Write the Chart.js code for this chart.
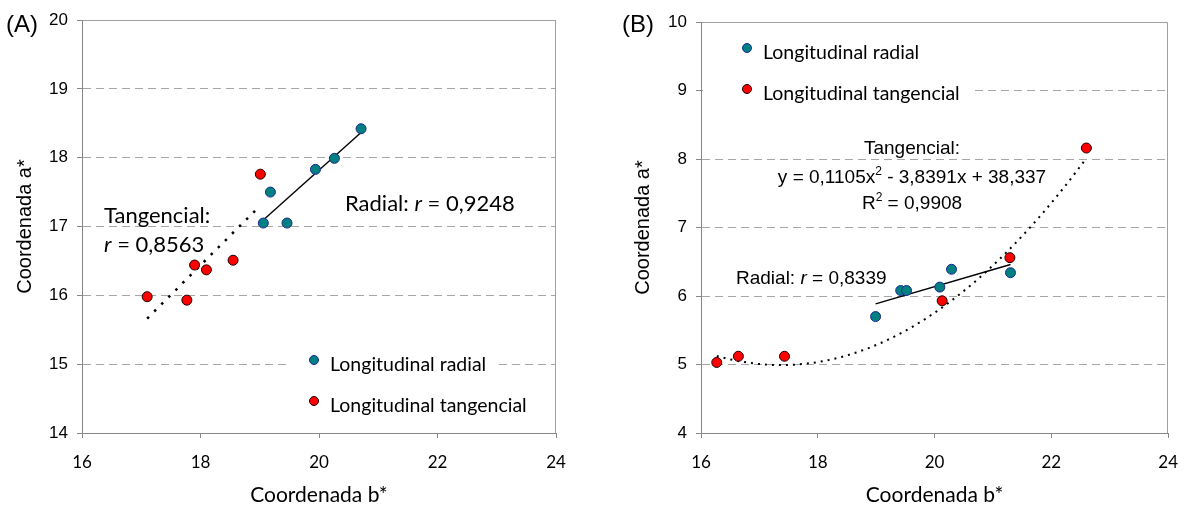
<!DOCTYPE html>
<html>
<head>
<meta charset="utf-8">
<script src="https://cdn.jsdelivr.net/npm/chart.js@4.4.0/dist/chart.umd.min.js"></script>
<style>
  body { margin: 0; background: #fff; }
  .panel { position: absolute; top: 0; width: 596px; height: 507px; }
</style>
</head>
<body>
<div class="panel" style="left:0"><canvas id="chartA" width="596" height="507"></canvas></div>
<div class="panel" style="left:596px"><canvas id="chartB" width="596" height="507"></canvas></div>
<script>
// (A) coordenadas b* / a*
const radialA_b = [19.06, 19.18, 19.46, 19.94, 20.26, 20.71];
const radialA_a = [17.05, 17.50, 17.05, 17.83, 17.99, 18.42];
const tangA_b = [17.10, 17.77, 17.90, 18.10, 18.55, 19.01];
const tangA_a = [15.98, 15.93, 16.44, 16.37, 16.51, 17.76];

// (B)
const radialB_b = [18.99, 19.42, 19.52, 20.09, 20.29, 21.30];
const radialB_a = [5.70, 6.08, 6.08, 6.13, 6.39, 6.34];
const tangB_b = [16.27, 16.64, 17.43, 20.13, 21.29, 22.60];
const tangB_a = [5.03, 5.12, 5.12, 5.93, 6.56, 8.16];
// polinomio de la línea de tendencia tangencial: a, b, c
const tangB_coef = [0.1105, -3.8391, 38.337];

const xRange = [16, 24];
const yRangeA = [14, 20];
const yRangeB = [4, 10];

const ARIAL = '"Liberation Sans", Arial, sans-serif';
const CALIBRI = 'Lato, "Open Sans", sans-serif';

const pts = (xs, ys) => xs.map((x, i) => ({ x: x, y: ys[i] }));

// recta de mínimos cuadrados entre el mínimo y el máximo de x
function linFit(xs, ys) {
    const n = xs.length;
    const mx = xs.reduce((s, v) => s + v, 0) / n;
    const my = ys.reduce((s, v) => s + v, 0) / n;
    let sxy = 0, sxx = 0;
    xs.forEach((x, i) => { sxy += (x - mx) * (ys[i] - my); sxx += (x - mx) * (x - mx); });
    const k = sxy / sxx;
    const x0 = Math.min(...xs), x1 = Math.max(...xs);
    return [{ x: x0, y: my + k * (x0 - mx) }, { x: x1, y: my + k * (x1 - mx) }];
}

function polyCurve(xs, coef, steps) {
    const x0 = Math.min(...xs), x1 = Math.max(...xs);
    const out = [];
    for (let i = 0; i <= steps; i++) {
        const x = x0 + (x1 - x0) * i / steps;
        out.push({ x: x, y: coef[0] * x * x + coef[1] * x + coef[2] });
    }
    return out;
}

// texto en tramos (para la r en cursiva y los superíndices)
function drawRuns(ctx, x, y, parts, align) {
    let w = 0;
    parts.forEach(p => { ctx.font = p[1]; w += ctx.measureText(p[0]).width; });
    let cx = align === 'center' ? x - w / 2 : x;
    parts.forEach(p => {
        ctx.font = p[1];
        ctx.fillText(p[0], cx, y + (p[2] || 0));
        cx += ctx.measureText(p[0]).width;
    });
}

function decor(cfg) {
    return {
        id: 'decor',
        beforeDatasetsDraw(chart) {
            const ctx = chart.ctx, a = chart.chartArea;
            ctx.save();
            // fondo blanco de la leyenda
            ctx.fillStyle = '#fff';
            ctx.fillRect(cfg.legendBox[0], cfg.legendBox[1], cfg.legendBox[2], cfg.legendBox[3]);
            // marco del área de trazado
            ctx.strokeStyle = '#a0a0a0';
            ctx.lineWidth = 1;
            ctx.beginPath();
            ctx.moveTo(Math.round(a.left) + 0.5, Math.round(a.top) + 0.5);
            ctx.lineTo(Math.round(a.right) - 0.5, Math.round(a.top) + 0.5);
            ctx.lineTo(Math.round(a.right) - 0.5, Math.round(a.bottom));
            ctx.stroke();
            ctx.restore();
        },
        afterDraw(chart) {
            const ctx = chart.ctx, a = chart.chartArea;
            ctx.save();
            ctx.fillStyle = '#000';
            ctx.textBaseline = 'alphabetic';
            ctx.textAlign = 'left';

            ctx.font = '24px ' + ARIAL;
            ctx.fillText(cfg.panel, cfg.panelPos[0], cfg.panelPos[1]);

            // títulos de los ejes
            ctx.textAlign = 'center';
            ctx.font = '21px ' + CALIBRI;
            ctx.fillText('Coordenada b*', (a.left + a.right) / 2, 502);
            ctx.save();
            ctx.translate(cfg.yTitleX, (a.top + a.bottom) / 2);
            ctx.rotate(-Math.PI / 2);
            ctx.font = '20px ' + ARIAL;
            ctx.fillText('Coordenada a*', 0, 0);
            ctx.restore();
            ctx.textAlign = 'left';

            cfg.notes.forEach(n => drawRuns(ctx, n.x, n.y, n.parts, n.align));

            // leyenda
            cfg.legend.forEach(l => {
                ctx.beginPath();
                ctx.arc(l.x, l.y, 4.5, 0, Math.PI * 2);
                ctx.fillStyle = l.fill;
                ctx.fill();
                ctx.lineWidth = 1;
                ctx.strokeStyle = l.stroke;
                ctx.stroke();
                ctx.fillStyle = '#000';
                ctx.font = '19.5px ' + CALIBRI;
                ctx.fillText(l.text, l.x + 16, l.y + 10.5);
            });
            ctx.restore();
        }
    };
}

function options(yRange, pad, yWidth) {
    return {
        responsive: false,
        animation: false,
        devicePixelRatio: 1,
        layout: { padding: pad },
        plugins: { legend: { display: false }, tooltip: { enabled: false } },
        scales: {
            x: {
                type: 'linear',
                min: xRange[0], max: xRange[1],
                afterFit: s => { s.height = 74; },
                ticks: { stepSize: 2, color: '#000', padding: 14, font: { family: CALIBRI, size: 17 } },
                grid: { drawOnChartArea: false, drawTicks: true, tickLength: 5, tickColor: '#888' },
                border: { color: '#888' }
            },
            y: {
                min: yRange[0], max: yRange[1],
                afterFit: s => { s.width = yWidth; },
                ticks: { stepSize: 1, color: '#000', padding: 9, font: { family: ARIAL, size: 17 } },
                grid: { color: '#a6a6a6', tickLength: 5, tickColor: '#888', tickBorderDash: [] },
                border: { color: '#888', dash: [8, 5] }
            }
        }
    };
}

const radialStyle = { backgroundColor: '#008080', borderColor: '#1d2a8e', pointRadius: 5, borderWidth: 1, order: 1 };
const tangStyle = { backgroundColor: '#ff0000', borderColor: '#1a0000', pointRadius: 5, borderWidth: 1, order: 1 };
const trendBase = { showLine: true, pointRadius: 0, borderColor: '#000', order: 2 };

new Chart(document.getElementById('chartA'), {
    type: 'scatter',
    data: {
        datasets: [
            Object.assign({ label: 'Radial', data: linFit(radialA_b, radialA_a), borderWidth: 1.4 }, trendBase),
            Object.assign({ label: 'Tangencial', data: linFit(tangA_b, tangA_a), borderWidth: 2.5, borderDash: [2.5, 7.5] }, trendBase),
            Object.assign({ label: 'Longitudinal radial', data: pts(radialA_b, radialA_a) }, radialStyle),
            Object.assign({ label: 'Longitudinal tangencial', data: pts(tangA_b, tangA_a) }, tangStyle)
        ]
    },
    options: options(yRangeA, { left: 0, right: 40, top: 20, bottom: 0 }, 82),
    plugins: [decor({
        panel: '(A)', panelPos: [6, 32], yTitleX: 31,
        legendBox: [287, 346, 211, 36],
        legend: [
            { x: 314, y: 360, fill: '#008080', stroke: '#1d2a8e', text: 'Longitudinal radial' },
            { x: 314, y: 401, fill: '#ff0000', stroke: '#1a0000', text: 'Longitudinal tangencial' }
        ],
        notes: [
            { x: 104, y: 223, parts: [['Tangencial:', '22px ' + CALIBRI]] },
            { x: 104, y: 252, parts: [['r', 'italic 22px ' + CALIBRI], [' = 0,8563', '22px ' + CALIBRI]] },
            { x: 345, y: 211, parts: [['Radial: ', '22px ' + CALIBRI], ['r', 'italic 22px ' + CALIBRI], [' = 0,9248', '22px ' + CALIBRI]] }
        ]
    })]
});

new Chart(document.getElementById('chartB'), {
    type: 'scatter',
    data: {
        datasets: [
            Object.assign({ label: 'Radial', data: linFit(radialB_b, radialB_a), borderWidth: 1.4 }, trendBase),
            Object.assign({ label: 'Tangencial', data: polyCurve(tangB_b, tangB_coef, 80), borderWidth: 2, borderDash: [2, 5], tension: 0 }, trendBase),
            Object.assign({ label: 'Longitudinal radial', data: pts(radialB_b, radialB_a) }, radialStyle),
            Object.assign({ label: 'Longitudinal tangencial', data: pts(tangB_b, tangB_a) }, tangStyle)
        ]
    },
    options: options(yRangeB, { left: 0, right: 17, top: 22, bottom: 0 }, 105),
    plugins: [decor({
        panel: '(B)', panelPos: [26, 32], yTitleX: 53,
        legendBox: [107, 30, 268, 80],
        legend: [
            { x: 151, y: 48, fill: '#008080', stroke: '#1d2a8e', text: 'Longitudinal radial' },
            { x: 151, y: 89, fill: '#ff0000', stroke: '#1a0000', text: 'Longitudinal tangencial' }
        ],
        notes: [
            { x: 316, y: 154, align: 'center', parts: [['Tangencial:', '19px ' + ARIAL]] },
            { x: 316, y: 183, align: 'center', parts: [['y = 0,1105x', '19px ' + ARIAL], ['2', '12px ' + ARIAL, -8], [' - 3,8391x + 38,337', '19px ' + ARIAL]] },
            { x: 316, y: 209, align: 'center', parts: [['R', '19px ' + ARIAL], ['2', '12px ' + ARIAL, -8], [' = 0,9908', '19px ' + ARIAL]] },
            { x: 140, y: 284, parts: [['Radial: ', '19px ' + ARIAL], ['r', 'italic 19px ' + ARIAL], [' = 0,8339', '19px ' + ARIAL]] }
        ]
    })]
});
</script>
</body>
</html>
